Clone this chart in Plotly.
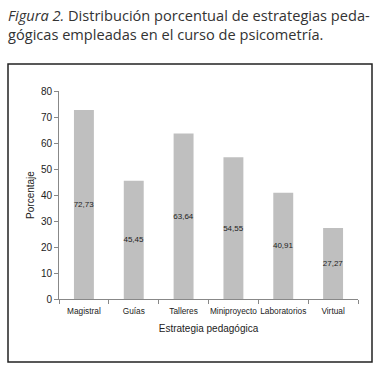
import plotly.graph_objects as go

categorias = ["Magistral", "Guías", "Talleres", "Miniproyecto", "Laboratorios", "Virtual"]
porcentajes = [72.73, 45.45, 63.64, 54.55, 40.91, 27.27]
etiquetas = ["72,73", "45,45", "63,64", "54,55", "40,91", "27,27"]
y_ticks = [0, 10, 20, 30, 40, 50, 60, 70, 80]

W, H = 380, 372
fig = go.Figure()
fig.add_trace(go.Bar(
    x=categorias, y=porcentajes, text=etiquetas,
    textposition="inside", insidetextanchor="middle", textangle=0,
    textfont=dict(family="Liberation Sans", size=8, color="#222"),
    marker=dict(color="#BFBFBF", line=dict(width=0)),
    width=0.4, hoverinfo="skip",
))

fig.update_layout(
    width=W, height=H,
    margin=dict(l=59, r=22, t=91, b=73),
    paper_bgcolor="white", plot_bgcolor="white",
    showlegend=False,
    font=dict(family="Liberation Sans", color="#222"),
    uniformtext=dict(minsize=8, mode="show"),
    xaxis=dict(
        type="category", showline=True, linecolor="#888", linewidth=1,
        ticks="outside", tickson="boundaries", ticklen=4, tickcolor="#888",
        tickangle=0, automargin=False, ticklabelstandoff=4,
        tickfont=dict(size=8.3, color="#222"), showgrid=False,
        title=dict(text="Estrategia pedagógica", font=dict(size=10, color="#222"), standoff=10),
    ),
    yaxis=dict(
        range=[0, 80], tickvals=y_ticks, showline=True, linecolor="#888", linewidth=1,
        ticks="outside", ticklen=4, tickcolor="#888", showgrid=False, zeroline=False,
        automargin=False,
        tickfont=dict(size=10, color="#222"),
        title=dict(text="Porcentaje", font=dict(size=10, color="#222"), standoff=4),
    ),
)

fig.add_shape(type="rect", xref="paper", yref="paper",
              x0=-51 / 299, x1=(372 - 59) / 299,
              y0=-(362 - 299) / 208, y1=(299 - 64) / 208,
              line=dict(color="#222", width=1.5), fillcolor="rgba(0,0,0,0)")

fig.add_annotation(xref="paper", yref="paper", x=-53 / 299, y=(299 - 3) / 208,
                   xanchor="left", yanchor="top", showarrow=False, align="left",
                   text="<i>Figura 2.</i> Distribución porcentual de estrategias peda-<br>gógicas empleadas en el curso de psicometría.",
                   font=dict(family="Open Sans", size=14.6, color="#333"))

fig.write_html("out.html", config={"displayModeBar": False},
               post_script="document.body.style.margin='0';")
